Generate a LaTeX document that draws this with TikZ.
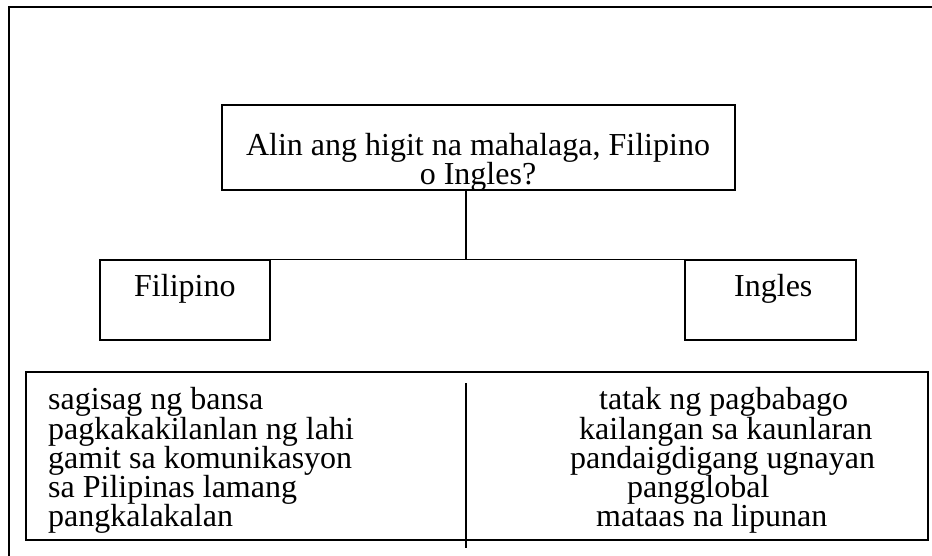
\documentclass[tikz,border=0pt]{standalone}
\usepackage{fontspec}
\setmainfont{Liberation Serif}
\begin{document}
\begin{tikzpicture}[x=1pt,y=-1pt,
  box/.style={draw, rectangle, inner sep=0pt, line width=1.4pt},
  ln/.style={line width=1.4pt},
  txt/.style={inner sep=0pt, font=\fontsize{32}{36.8}\selectfont}]
\useasboundingbox (0,0) rectangle (932,556);
% outer frame
\draw[ln] (9,556) -- (9,7) -- (932,7);
% boxes
\node[box, minimum width=513pt, minimum height=85pt] (q) at (478.5,147.5) {};
\node[box, minimum width=170pt, minimum height=80pt] (fil) at (185,300) {};
\node[box, minimum width=171pt, minimum height=80pt] (ing) at (770.5,300) {};
\node[box, minimum width=902pt, minimum height=168pt] (big) at (477,456) {};
% connectors
\coordinate (j) at (466,260);
\draw[ln] (q.south -| j) -- (j);
\draw[ln] (fil.north west) -- (ing.north east);
\coordinate (d1) at (466,383);
\coordinate (d2) at (466,548);
\draw[ln] (d1) -- (d2);
% texts
\node[txt, anchor=base] (t1) at (478,156) {Alin ang higit na mahalaga, Filipino};
\node[txt, anchor=base] (t2) at (478,185) {o Ingles?};
\node[txt, anchor=base west] (tf) at (134,297) {Filipino};
\node[txt, anchor=base west] (ti) at (734,297) {Ingles};
\node[txt, anchor=base west] (l1) at (48,409) {sagisag ng bansa};
\node[txt, anchor=base west] (l2) at (48,439) {pagkakakilanlan ng lahi};
\node[txt, anchor=base west] (l3) at (48,468) {gamit sa komunikasyon};
\node[txt, anchor=base west] (l4) at (48,497) {sa Pilipinas lamang};
\node[txt, anchor=base west] (l5) at (48,526) {pangkalakalan};
\node[txt, anchor=base west] (r1) at (599,409) {tatak ng pagbabago};
\node[txt, anchor=base west] (r2) at (579,439) {kailangan sa kaunlaran};
\node[txt, anchor=base west] (r3) at (570,468) {pandaigdigang ugnayan};
\node[txt, anchor=base west] (r4) at (627,497) {pangglobal};
\node[txt, anchor=base west] (r5) at (596,526) {mataas na lipunan};
\end{tikzpicture}
\end{document}
